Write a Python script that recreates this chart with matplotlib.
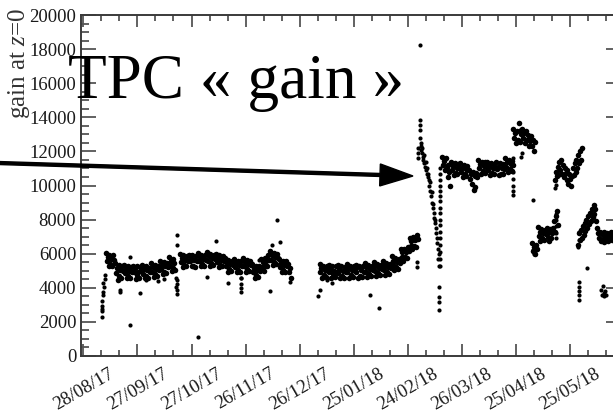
import datetime as dt
import numpy as np
import matplotlib
matplotlib.use("Agg")
import matplotlib.pyplot as plt
from matplotlib.ticker import MultipleLocator, FixedLocator
from matplotlib.patches import FancyArrow
from matplotlib.transforms import IdentityTransform

plt.rcParams["font.family"] = ["Liberation Serif", "DejaVu Serif"]
plt.rcParams["mathtext.fontset"] = "custom"
plt.rcParams["mathtext.rm"] = "Liberation Serif"
plt.rcParams["mathtext.it"] = "Liberation Serif:italic"

# ---- time axis -------------------------------------------------------------
ORIGIN = dt.datetime(2017, 8, 28)
TICK_LABELS = ["28/08/17", "27/09/17", "27/10/17", "26/11/17", "26/12/17",
               "25/01/18", "24/02/18", "26/03/18", "25/04/18", "25/05/18"]
X_MIN, X_MAX = -1.3, 298.2          # days since ORIGIN
Y_MIN, Y_MAX = 0, 20000
SAMPLE_STEP = 0.5                   # days between consecutive run measurements

# ---- gain measurements (runs sampled every SAMPLE_STEP days) ---------------
run_a_start = 12.5
run_a_gain = [
    6050, 5550, 5800, 5250, 5950, 5400, 5700, 5300, 5900, 5650,
    5450, 4850, 5150, 4450, 5350, 4700, 5050, 4550, 5300, 5000,
    5350, 4850, 5100, 4550, 5250, 4700, 5000, 4600, 5200, 4950,
    5300, 4900, 5150, 4500, 5250, 4750, 4950, 4600, 5200, 5000,
    5350, 4800, 5100, 4550, 5300, 4700, 5050, 4600, 5150, 4950,
    5450, 4950, 5200, 4650, 5350, 4800, 5100, 4700, 5300, 5050,
    5600, 5100, 5350, 4800, 5500, 4950, 5250, 4850, 5450, 5200,
    5800, 5300, 5550, 5000, 5700, 5150, 5450, 5050,
]

run_b_start = 53.5
run_b_gain = [
    6000, 5500, 5750, 5200, 5900, 5350, 5650, 5250, 5850, 5600,
    5950, 5550, 5700, 5250, 5900, 5300, 5650, 5200, 5850, 5550,
    6050, 5550, 5800, 5250, 5950, 5400, 5700, 5300, 5900, 5650,
    6100, 5600, 5850, 5300, 6000, 5450, 5750, 5350, 5950, 5700,
    6000, 5500, 5750, 5200, 5900, 5350, 5650, 5250, 5850, 5600,
    5750, 5250, 5500, 4950, 5650, 5100, 5400, 5000, 5600, 5350,
    5700, 5200, 5450, 4900, 5600, 5050, 5350, 4950, 5550, 5300,
    5750, 5250, 5500, 4950, 5650, 5100, 5400, 5000, 5600, 5350,
    5400, 4900, 5150, 4600, 5300, 4750, 5050, 4650, 5250, 5000,
    5700, 5200, 5500, 5000, 5750, 5300, 5600, 5250, 5900, 5650,
    6150, 5650, 5900, 5350, 6050, 5500, 5800, 5400, 6000, 5750,
    5700, 5200, 5450, 4900, 5600, 5050, 5350, 4950, 5550, 5300,
    5400, 4900, 5150, 4600,
]

run_c_start = 131.0
run_c_gain = [
    5400, 4900, 5150, 4600, 5300, 4750, 5050, 4650, 5250, 5000,
    5350, 4950, 5100, 4600, 5300, 4800, 5000, 4650, 5250, 4950,
    5350, 4850, 5100, 4550, 5250, 4700, 5000, 4600, 5200, 4950,
    5400, 4900, 5150, 4600, 5300, 4750, 5050, 4650, 5250, 5000,
    5350, 4900, 5200, 4600, 5300, 4700, 5050, 4650, 5250, 4950,
    5450, 4950, 5200, 4650, 5350, 4800, 5100, 4700, 5300, 5050,
    5500, 5000, 5250, 4700, 5400, 4850, 5150, 4750, 5350, 5100,
    5550, 5050, 5300, 4750, 5450, 4900, 5200, 4800, 5400, 5150,
    5850, 5350, 5600, 5050, 5750, 5200, 5500, 5100, 5700, 5450,
    6300, 5800, 6100, 5600, 6300, 5800, 6100, 5750, 6400, 6150,
    6950, 6450, 6750, 6250, 7000, 6450, 6800, 6400, 7100, 6850,
]

run_d_start = 199.0
run_d_gain = [
    11700, 11200, 11450, 10900, 11600, 11000, 11200, 10500, 10800, 10000,
    11400, 10900, 11150, 10600, 11300, 10750, 11050, 10650, 11250, 11000,
    11300, 10800, 11050, 10500, 11200, 10650, 10950, 10550, 11150, 10900,
    10900, 10400, 10650, 10100, 10800, 9750, 10550, 9900, 10750, 10500,
    11500, 11000, 11250, 10700, 11400, 10850, 11150, 10750, 11350, 11100,
    11400, 10900, 11150, 10600, 11300, 10750, 11050, 10650, 11250, 11000,
    11350, 10950, 11100, 10600, 11300, 10700, 11000, 10650, 11250, 10950,
    11600, 11100, 11350, 10800, 11500, 10950, 11250, 10850, 11450, 11200,
]

run_e_start = 238.5
run_e_gain = [
    13300, 12800, 13050, 12500, 13200, 12650, 13650, 12550, 13250, 13000,
    13300, 12800, 13050, 12500, 13200, 12650, 12950, 12300, 12850, 12600,
    12900, 12300, 12650, 12050, 12550,
]

run_f_start = 249.0
run_f_gain = [
    6600, 6150, 6400, 6000, 6500, 6250,
    7550, 7050, 7300, 6750, 7450, 6900, 7200, 6800, 7400, 7150,
    7500, 7000, 7250, 6750, 7450, 6900, 7200,
    7500, 7900, 7300, 8200, 8500, 7700,
]

run_g_start = 261.5
run_g_gain = [
    10300, 10800, 10550, 11100, 10600, 11400, 10900, 11500, 10700, 11200,
    10500, 11000, 10750, 10300, 10900, 10100, 10700, 10400, 9950, 10550,
    11000, 10600, 11300, 10800, 11500, 11000, 11800, 11300, 12000, 11500,
    12200,
]

run_h_start = 274.5
run_h_gain = [
    6500, 7200, 6800, 7400, 6950, 7600, 7100, 7800, 7350, 8000,
    7500, 8200, 7750, 8400, 7900, 8600, 8150, 8850, 8300, 8600,
    7900, 7500, 7200, 6900, 7300, 6750, 7150, 6850, 7250, 6700,
    7100, 6900, 7200, 6750, 7050, 6900, 7250, 6800, 7100,
]

# ---- isolated measurements (day, gain) --------------------------------------
extra_day = [
    10.2, 10.3, 10.5, 10.3, 10.1, 11.0, 11.0, 11.2, 11.0, 12.0, 12.0,
    20.3, 20.5, 25.8, 25.8, 31.4, 34.6, 41.2, 44.6,
    51.7, 51.7, 51.6, 51.7, 51.8, 51.6, 51.7, 51.7,
    63.6, 68.4, 73.5, 80.0,
    87.2, 87.5, 87.4, 87.4, 87.4,
    97.5, 103.5, 104.4, 107.4, 109.0, 114.7,
    130.1, 131.0, 132.1, 135.0, 137.7, 158.9, 164.0, 184.8, 185.2,
    185.8, 185.8, 185.8, 186.7, 186.7, 186.7, 186.7,
    186.9, 187.0, 187.3, 187.4, 187.8, 188.1, 188.3, 188.6, 188.9, 189.2,
    189.5, 189.8, 190.1, 190.4, 190.7, 191.0, 191.3, 191.6, 191.9, 192.2,
    192.5, 192.8, 193.1, 193.4, 193.7, 194.0, 194.3, 194.6, 194.9, 195.2,
    195.5, 195.8, 196.1, 196.4, 196.7, 197.0, 196.9, 197.2,
    197.8, 197.8, 197.8, 197.8, 197.8, 197.8, 197.8, 197.8, 197.8,
    197.8, 197.8, 197.8, 197.8, 197.8, 197.8, 197.8, 197.8,
    197.5, 197.5, 197.5, 197.5,
    238.4, 238.4, 238.4, 238.4, 238.4, 238.4, 238.4,
    242.8, 243.1, 249.2,
    249.3, 249.8, 250.3, 262.3, 262.4, 262.3, 262.4, 262.3,
    261.8, 262.0,
    274.6, 274.7, 274.8, 279.2,
    275.0, 275.0, 275.0, 275.0, 275.0,
    287.0, 287.5, 288.0, 288.5, 289.0, 289.5, 290.0,
]
extra_gain = [
    2300, 2620, 2780, 2960, 3240, 3570, 3770, 4070, 4260, 4520, 4750,
    3870, 3770, 1840, 5800, 3690, 4450, 4420, 4500,
    7100, 6500, 4570, 4460, 4240, 4070, 3870, 3640,
    1130, 4650, 6750, 4300,
    4570, 4550, 4250, 4000, 3750,
    5630, 3830, 6500, 7980, 6700, 4360,
    3520, 3870, 4650, 4460, 4280, 3580, 2800, 5240, 5500,
    12200, 11900, 11600, 18240, 13840, 13550, 13260,
    12800, 12300, 12500, 12100, 11900, 12200, 11700, 11500, 11800, 11300,
    11100, 11400, 10900, 11000, 10700, 10500, 10700, 10300, 10000, 10200,
    9700, 9400, 9600, 9000, 8700, 8900, 8400, 8100, 7800, 8000,
    7500, 7200, 6900, 6600, 6300, 6000, 5700, 5300,
    11000, 10700, 10300, 10000, 9700, 9400, 9100, 8700, 8400,
    8000, 7700, 7300, 6900, 6500, 6100, 5700, 5300,
    4050, 3460, 3170, 2700,
    11600, 11200, 10800, 10400, 10000, 9700, 9450,
    11700, 11900, 9150,
    6200, 6000, 6150, 8300, 8000, 7600, 7200, 6900,
    9850, 10050,
    6400, 6800, 7300, 5160,
    4340, 4050, 3800, 3550, 3280,
    3900, 3600, 4100, 3700, 3500, 3800, 3600,
]

runs = [
    (run_a_start, run_a_gain), (run_b_start, run_b_gain),
    (run_c_start, run_c_gain), (run_d_start, run_d_gain),
    (run_e_start, run_e_gain), (run_f_start, run_f_gain),
    (run_g_start, run_g_gain), (run_h_start, run_h_gain),
]

# ---- figure -----------------------------------------------------------------
W, H = 613, 412
fig = plt.figure(figsize=(W / 100, H / 100), dpi=100)
ax = fig.add_axes([81 / W, (H - 356) / H, 540 / W, 341 / H])

for start, gains in runs:
    days = start + SAMPLE_STEP * np.arange(len(gains))
    ax.plot(days, gains, ls="none", marker="o", ms=4.0, mew=0, color="black")
ax.plot(extra_day, extra_gain, ls="none", marker="o", ms=3.0, mew=0, color="black")

ax.set_xlim(X_MIN, X_MAX)
ax.set_ylim(Y_MIN, Y_MAX)

tick_days = [(dt.datetime.strptime(s, "%d/%m/%y") - ORIGIN).days for s in TICK_LABELS]
ax.xaxis.set_major_locator(FixedLocator(tick_days))
ax.xaxis.set_minor_locator(MultipleLocator(10))
ax.set_xticklabels(TICK_LABELS, rotation=30, ha="center", va="top")
ax.yaxis.set_major_locator(MultipleLocator(2000))
ax.yaxis.set_minor_locator(MultipleLocator(500))

tick_col = "#555555"
ax.tick_params(axis="both", which="both", direction="in", top=True, right=True,
               color=tick_col, width=1.3, labelsize=13.5, labelcolor="#1a1a1a")
ax.tick_params(axis="y", which="major", length=10.8, pad=3.5)
ax.tick_params(axis="y", which="minor", length=5.5)
ax.tick_params(axis="x", which="major", length=8.5, pad=6.5)
ax.tick_params(axis="x", which="minor", length=4.3)
for sp in ax.spines.values():
    sp.set_color("#3a3a3a")
    sp.set_linewidth(1.4)

fig.text(19 / W, 1 - 64 / H, "gain at $z$=0", rotation=90, ha="center", va="center",
         fontsize=18, color="#333333")

fig.text(68 / W, 1 - 98 / H, "TPC « gain »", ha="left", va="baseline",
         fontsize=45.5, color="black")

arrow = FancyArrow(-2, H - 163, 415, -13, width=3, head_width=22, head_length=33,
                   length_includes_head=True, color="black", transform=IdentityTransform())
fig.add_artist(arrow)

fig.savefig("out.png", dpi=100)
